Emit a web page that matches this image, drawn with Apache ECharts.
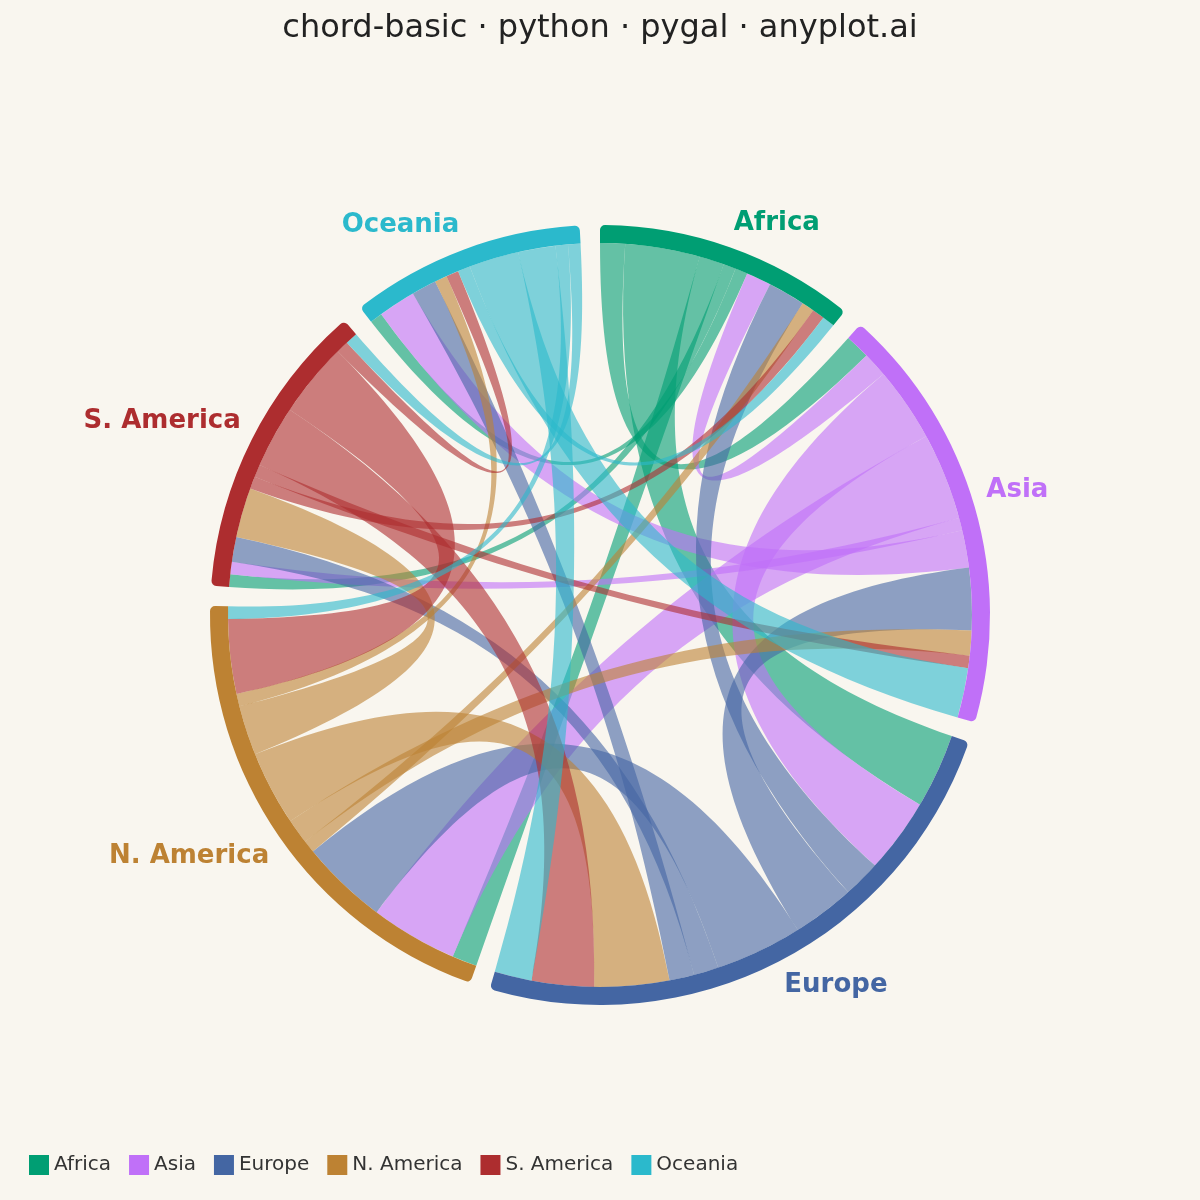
<!DOCTYPE html>
<html><head><meta charset="utf-8">
<script src="https://cdn.jsdelivr.net/npm/echarts@6/dist/echarts.min.js"></script>
<style>html,body{margin:0;background:#f9f6ef}#c{width:1200px;height:1200px}</style>
</head><body><div id="c"></div>
<script>
const regions = ['Africa','Asia','Europe','N. America','S. America','Oceania'];
const colors = ['#009e73','#c070f8','#4466a3','#bd8233','#ad2d2f','#2bb9cc'];
// flows[i][j]: from regions[i] to regions[j]
const flows = [
  [0, 2, 6, 2, 1, 1],
  [2, 0, 6, 7, 1, 3],
  [3, 5, 0, 7, 2, 2],
  [1, 2, 6, 0, 4, 1],
  [1, 1, 5, 6, 0, 1],
  [1, 4, 3, 1, 1, 0]
];
const links = [];
flows.forEach((row,i)=>row.forEach((v,j)=>{ if(v>0) links.push({source:regions[i],target:regions[j],value:v}); }));
const chart = echarts.init(document.getElementById('c'));
chart.setOption({
  backgroundColor:'#f9f6ef',
  color: colors,
  title:{text:'chord-basic · python · pygal · anyplot.ai',left:'center',top:8,
    textStyle:{fontFamily:'DejaVu Sans',fontSize:32,fontWeight:'normal',color:'#222'}},
  legend:{bottom:20,left:24,itemGap:18,icon:'rect',itemWidth:20,itemHeight:20,
    textStyle:{fontFamily:'DejaVu Sans',fontSize:20,color:'#333',width:150},data:regions},
  series:[{
    type:'chord',
    center:['50%',615],
    radius:['62%','65%'],
    startAngle:90,
    clockwise:true,
    padAngle:3,
    itemStyle:{borderWidth:0},
    lineStyle:{color:'source',opacity:0.6},
    label:{show:true,position:'outside',distance:12,fontFamily:'DejaVu Sans',fontSize:26,fontWeight:'bold',color:'inherit'},
    data: regions.map((r,i)=>({name:r,itemStyle:{color:colors[i]},label:{color:colors[i]}})),
    links: links
  }]
});
</script></body></html>
